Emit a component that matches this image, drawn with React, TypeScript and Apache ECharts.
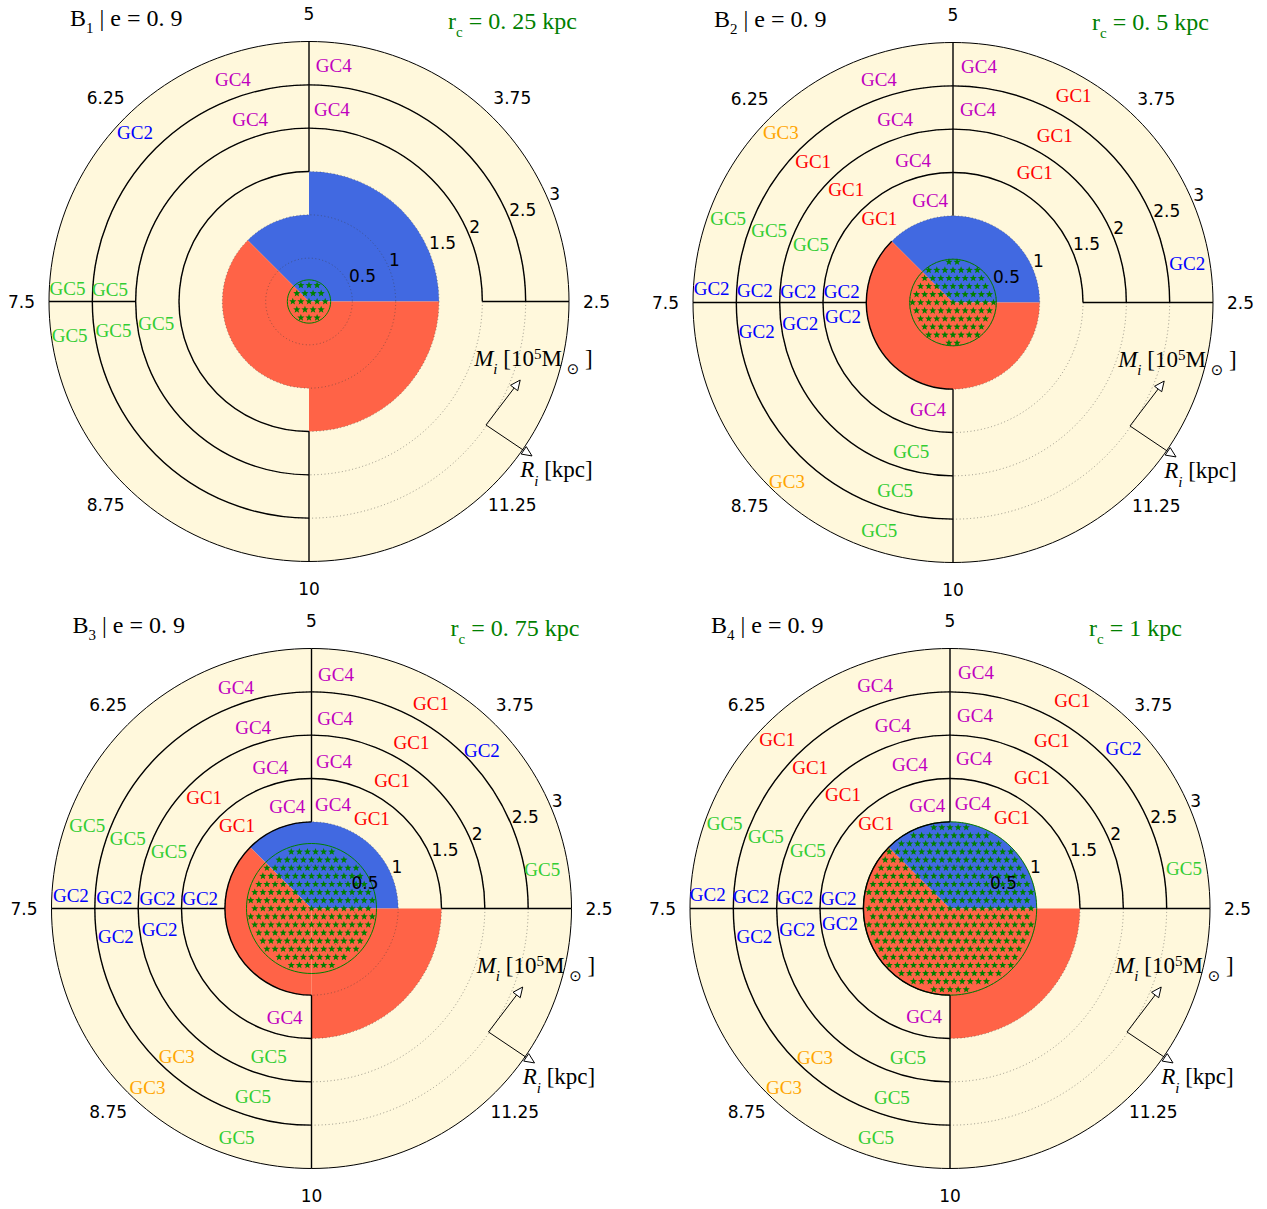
import React, { useEffect, useRef } from 'react';
import * as echarts from 'echarts';

// ---------------- layout ----------------
const CHART_W = 1267;
const CHART_H = 1209;
const PANEL_CENTERS = [[309, 301.5], [953, 302.5], [311.5, 908.5], [950, 908.5]];
const PANEL_RADIUS = 260;

// ---------------- axes ----------------
const R_MAX = 3;
const ANGLE_TICK_VALUES = [0, 45, 90, 135, 180, 225, 270, 315];
const ANGLE_TICK_LABELS = ['2.5', '3.75', '5', '6.25', '7.5', '8.75', '10', '11.25'];
const RADIUS_TICKS = [0.5, 1, 1.5, 2, 2.5, 3];
const RADIUS_LABEL_ANGLE = 22.5;

// ---------------- panel texts ----------------
const MODEL_INDEX = ['1', '2', '3', '4'];
const ECC_TEXT = '0. 9';
const CORE_RADII = [0.25, 0.5, 0.75, 1];
const CORE_TEXT = ['0. 25', '0. 5', '0. 75', '1'];

// ---------------- wedges: [outer radius kpc, from angle deg, to angle deg] ----------------
const BLUE_WEDGES = [
  [[1.5, 0, 90], [1, 90, 135]],
  [[1, 0, 135]],
  [[1, 0, 135]],
  [[1, 0, 135]],
];
const RED_WEDGES = [
  [[1, 135, 270], [1.5, 270, 360]],
  [[1, 135, 360]],
  [[1, 135, 270], [1.5, 270, 360]],
  [[1, 135, 270], [1.5, 270, 360]],
];

// ---------------- ring boundaries: [radius, from angle, to angle] ----------------
const RING_ARCS = [
  [[1.5, 90, 270], [2, 0, 270], [2.5, 0, 270]],
  [[1, 135, 270], [1.5, 0, 270], [2, 0, 270], [2.5, 0, 270]],
  [[1, 90, 270], [1.5, 0, 270], [2, 0, 270], [2.5, 0, 270]],
  [[1, 90, 270], [1.5, 0, 270], [2, 0, 270], [2.5, 0, 270]],
];
// ---------------- spokes: [angle, from radius, to radius] ----------------
const SPOKES = [
  [[0, 2, 3], [90, 1.5, 3], [180, 2, 3], [270, 1.5, 3]],
  [[0, 1.5, 3], [90, 1, 3], [180, 1, 3], [270, 1, 3]],
  [[0, 1.5, 3], [90, 1, 3], [180, 1, 3], [270, 1, 3]],
  [[0, 1.5, 3], [90, 1, 3], [180, 1, 3], [270, 1, 3]],
];

// ---------------- GC labels: [radius kpc, angle deg, GC number] ----------------
const GC_NAMES = ['GC1', 'GC2', 'GC3', 'GC4', 'GC5'];
const GC_COLORS = ['#ff0000', '#0000ff', '#ffa500', '#bf00bf', '#32cd32'];

const LABELS_B1 = [
  [2.74, 84, 4], [2.23, 83.2, 4], [2.71, 108.9, 4], [2.21, 107.9, 4], [2.8, 135.8, 2],
  [2.79, 176.9, 5], [2.3, 176.5, 5], [2.79, 188.2, 5], [2.28, 188.3, 5], [1.78, 188.1, 5],
];
const LABELS_B2 = [
  [2.74, 83.7, 4], [2.76, 59.7, 1], [2.24, 82.6, 4], [2.26, 58.7, 1], [1.77, 57.8, 1], [2.74, 9.5, 2],
  [2.71, 108.4, 4], [2.79, 135.4, 3], [2.22, 107.5, 4], [2.29, 134.8, 1], [1.7, 105.7, 4], [1.79, 133.5, 1],
  [1.21, 102.6, 4], [1.29, 131.2, 1],
  [2.77, 159.5, 5], [2.28, 158.5, 5], [1.77, 157.7, 5],
  [2.79, 176.6, 2], [2.29, 176.4, 2], [1.79, 176, 2], [1.29, 174.4, 2],
  [2.29, 188.5, 2], [1.78, 188, 2], [1.28, 187.4, 2],
  [1.27, 256.9, 4], [1.78, 254.3, 5], [2.82, 227.2, 3], [2.27, 252.9, 5], [2.77, 252.1, 5],
];
const LABELS_B3 = [
  [2.71, 84, 4], [2.74, 59.8, 1], [2.21, 82.9, 4], [2.68, 42.8, 2], [2.24, 59, 1], [1.72, 81.3, 4],
  [1.75, 57.9, 1], [1.23, 78.4, 4], [1.25, 56.1, 1], [2.7, 9.5, 5],
  [2.69, 108.9, 4], [2.19, 107.9, 4], [1.7, 106.2, 4], [1.21, 103.4, 4], [1.78, 134.1, 1], [1.29, 131.8, 1],
  [2.76, 159.6, 5], [2.27, 159.1, 5], [1.77, 158.3, 5],
  [2.78, 176.9, 2], [2.28, 176.8, 2], [1.78, 176.2, 2], [1.29, 175.1, 2],
  [2.28, 188.2, 2], [1.77, 188, 2],
  [1.29, 256.1, 4], [2.31, 227.7, 3], [1.78, 253.9, 5], [2.8, 227.5, 3], [2.27, 252.7, 5], [2.78, 251.9, 5],
];
const LABELS_B4 = [
  [2.74, 83.7, 4], [2.78, 59.5, 1], [2.24, 82.6, 4], [2.72, 42.6, 2], [2.27, 58.8, 1], [1.75, 80.9, 4],
  [1.78, 57.9, 1], [1.24, 77.8, 4], [1.27, 55.8, 1], [2.74, 9.7, 5],
  [2.71, 108.6, 4], [2.79, 135.6, 1], [2.21, 107.4, 4], [2.29, 134.8, 1], [1.72, 105.6, 4], [1.8, 133.3, 1],
  [1.22, 102.4, 4], [1.3, 131, 1],
  [2.78, 159.3, 5], [2.28, 158.7, 5], [1.77, 157.9, 5],
  [2.8, 176.8, 2], [2.3, 176.6, 2], [1.79, 176, 2], [1.29, 174.8, 2],
  [2.28, 188.2, 2], [1.78, 188, 2], [1.28, 187.7, 2],
  [1.28, 256.5, 4], [2.32, 227.8, 3], [1.79, 254.3, 5], [2.82, 227.2, 3], [2.28, 252.9, 5], [2.78, 252.1, 5],
];
const LABELS = [LABELS_B1, LABELS_B2, LABELS_B3, LABELS_B4];

// ---------------- annotation (data coords: [radius, angle]) ----------------
const ANNOT_CORNER = [2.49, 325.1];
const ANNOT_MASS_TIP = [2.6, 339.6];
const ANNOT_RADIUS_TIP = [3.13, 325.3];
const ANNOT_MASS_TEXT = [2.03, 339.9];
const ANNOT_RADIUS_TEXT = [3.14, 320.9];

// ---------------- styles ----------------
const CORNSILK = '#fff8dc';
const BLUE = '#4169e1';
const RED = '#ff6347';
const HATCH_COLOR = '#008000';
const SERIF = '"Liberation Serif", "DejaVu Serif", serif';
const SANS = '"DejaVu Sans", sans-serif';
const GRID_GRAY = 'rgba(60,60,60,0.5)';
const NONE = 'rgba(0,0,0,0)';

function frame(api: any) {
  const c = api.coord([0, 0]);
  const e = api.coord([1, 0]);
  return { cx: c[0], cy: c[1], unit: Math.hypot(e[0] - c[0], e[1] - c[1]) };
}
const toRad = (deg: number) => (-deg * Math.PI) / 180;

function starPoints(x: number, y: number, ro: number, ri: number) {
  const pts: number[][] = [];
  for (let i = 0; i < 10; i++) {
    const a = -Math.PI / 2 + (i * Math.PI) / 5;
    const r = i % 2 === 0 ? ro : ri;
    pts.push([x + r * Math.cos(a), y + r * Math.sin(a)]);
  }
  return pts;
}

function textEl(x: number, y: number, text: string, fill: string, fontSize: number, fontFamily: string, align: string, vAlign: string) {
  return {
    type: 'text',
    x,
    y,
    style: {
      text,
      fill,
      fontSize,
      fontFamily,
      fontWeight: 'normal',
      align,
      verticalAlign: vAlign,
      textAlign: align,
      textVerticalAlign: vAlign,
    },
  };
}

function arrowEls(a: number[], b: number[]) {
  const dx = b[0] - a[0];
  const dy = b[1] - a[1];
  const L = Math.hypot(dx, dy);
  const ux = dx / L;
  const uy = dy / L;
  const hl = 10;
  const hw = 4.5;
  const bx = b[0] - ux * hl;
  const by = b[1] - uy * hl;
  return [
    { type: 'line', shape: { x1: a[0], y1: a[1], x2: bx, y2: by }, style: { stroke: '#000', lineWidth: 1 } },
    {
      type: 'polygon',
      shape: { points: [[b[0], b[1]], [bx - uy * hw, by + ux * hw], [bx + uy * hw, by - ux * hw]] },
      style: { fill: '#ffffff', stroke: '#000', lineWidth: 1 },
    },
  ];
}

const annotRich = {
  it: { fontFamily: SERIF, fontStyle: 'italic', fontWeight: 'normal', fontSize: 23, lineHeight: 30, verticalAlign: 'top', fill: '#000' },
  n: { fontFamily: SERIF, fontWeight: 'normal', fontSize: 23, lineHeight: 30, verticalAlign: 'top', fill: '#000' },
  s: { fontFamily: SERIF, fontStyle: 'italic', fontWeight: 'normal', fontSize: 15, lineHeight: 19, verticalAlign: 'bottom', fill: '#000' },
  p: { fontFamily: SERIF, fontWeight: 'normal', fontSize: 15, lineHeight: 19, verticalAlign: 'top', fill: '#000' },
  o: { fontFamily: SANS, fontWeight: 'normal', fontSize: 15, lineHeight: 20, verticalAlign: 'bottom', fill: '#000' },
};

function panelSeries(k: number) {
  const base = { type: 'custom', coordinateSystem: 'polar', polarIndex: k, silent: true, animation: false };
  const wedgeData = [
    ...BLUE_WEDGES[k].map((w) => [w[0], w[1], w[2], 0]),
    ...RED_WEDGES[k].map((w) => [w[0], w[1], w[2], 1]),
  ];
  return [
    {
      ...base,
      z: 1,
      data: [[R_MAX, 0]],
      renderItem: (_p: any, api: any) => {
        const f = frame(api);
        return { type: 'circle', shape: { cx: f.cx, cy: f.cy, r: f.unit * api.value(0) }, style: { fill: CORNSILK } };
      },
    },
    {
      ...base,
      z: 2,
      data: wedgeData,
      renderItem: (_p: any, api: any) => {
        const f = frame(api);
        return {
          type: 'sector',
          shape: {
            cx: f.cx,
            cy: f.cy,
            r0: 0,
            r: f.unit * api.value(0),
            startAngle: toRad(api.value(1)),
            endAngle: toRad(api.value(2)),
            clockwise: false,
          },
          style: { fill: api.value(3) === 0 ? BLUE : RED },
        };
      },
    },
    {
      ...base,
      z: 3,
      data: [[CORE_RADII[k], 0]],
      renderItem: (_p: any, api: any) => {
        const f = frame(api);
        const rpx = f.unit * api.value(0);
        const children: any[] = [];
        const sx = 8.1;
        const sy = 8.1;
        const n = Math.ceil(rpx / sy) + 1;
        for (let j = -n; j <= n; j++) {
          const off = (Math.abs(j) % 2) * (sx / 2);
          for (let i = -n - 1; i <= n + 1; i++) {
            const x = i * sx + off;
            const y = j * sy;
            if (Math.hypot(x, y) <= rpx - 2.5) {
              children.push({
                type: 'polygon',
                shape: { points: starPoints(f.cx + x, f.cy + y, 3.8, 1.6) },
                style: { fill: HATCH_COLOR },
              });
            }
          }
        }
        children.push({
          type: 'circle',
          shape: { cx: f.cx, cy: f.cy, r: rpx },
          style: { fill: NONE, stroke: HATCH_COLOR, lineWidth: 1 },
        });
        return { type: 'group', children };
      },
    },
    {
      ...base,
      z: 5,
      data: RING_ARCS[k],
      renderItem: (_p: any, api: any) => {
        const f = frame(api);
        return {
          type: 'arc',
          shape: {
            cx: f.cx,
            cy: f.cy,
            r: f.unit * api.value(0),
            startAngle: toRad(api.value(1)),
            endAngle: toRad(api.value(2)),
            clockwise: false,
          },
          style: { stroke: '#000', lineWidth: 1.4, fill: NONE },
        };
      },
    },
    {
      ...base,
      z: 5,
      data: SPOKES[k].map((s) => [s[1], s[0], s[2]]),
      renderItem: (_p: any, api: any) => {
        const a = api.coord([api.value(0), api.value(1)]);
        const b = api.coord([api.value(2), api.value(1)]);
        return {
          type: 'line',
          shape: { x1: a[0], y1: a[1], x2: b[0], y2: b[1] },
          style: { stroke: '#000', lineWidth: 1.4 },
        };
      },
    },
    {
      ...base,
      z: 7,
      data: LABELS[k],
      renderItem: (_p: any, api: any) => {
        const pt = api.coord([api.value(0), api.value(1)]);
        const gi = api.value(2) - 1;
        return textEl(pt[0], pt[1], GC_NAMES[gi], GC_COLORS[gi], 19, SERIF, 'center', 'middle');
      },
    },
    {
      ...base,
      z: 7,
      data: ANGLE_TICK_VALUES.map((a, i) => [R_MAX, a, i]),
      renderItem: (_p: any, api: any) => {
        const f = frame(api);
        const ang = (api.value(1) * Math.PI) / 180;
        const d = f.unit * api.value(0) + 27.5;
        return textEl(
          f.cx + d * Math.cos(ang),
          f.cy - d * Math.sin(ang),
          ANGLE_TICK_LABELS[api.value(2)],
          '#000',
          17,
          SANS,
          'center',
          'middle'
        );
      },
    },
    {
      ...base,
      z: 7,
      data: RADIUS_TICKS.map((r) => [r, RADIUS_LABEL_ANGLE]),
      renderItem: (_p: any, api: any) => {
        const pt = api.coord([api.value(0), api.value(1)]);
        return textEl(pt[0], pt[1], String(api.value(0)), '#000', 17, SANS, 'left', 'bottom');
      },
    },
    {
      ...base,
      z: 7,
      data: [ANNOT_CORNER],
      renderItem: (_p: any, api: any) => {
        const corner = api.coord([api.value(0), api.value(1)]);
        const mTip = api.coord(ANNOT_MASS_TIP);
        const rTip = api.coord(ANNOT_RADIUS_TIP);
        const mTxt = api.coord(ANNOT_MASS_TEXT);
        const rTxt = api.coord(ANNOT_RADIUS_TEXT);
        return {
          type: 'group',
          children: [
            ...arrowEls(corner, mTip),
            ...arrowEls(corner, rTip),
            {
              type: 'text',
              x: mTxt[0],
              y: mTxt[1],
              style: {
                text: '{it|M}{s|i}{n| [10}{p|5}{n|M}{o| ⊙}{n| ]}',
                rich: annotRich,
                align: 'left',
                verticalAlign: 'middle',
                textAlign: 'left',
                textVerticalAlign: 'middle',
              },
            },
            {
              type: 'text',
              x: rTxt[0],
              y: rTxt[1],
              style: {
                text: '{it|R}{s|i}{n| [kpc]}',
                rich: annotRich,
                align: 'left',
                verticalAlign: 'middle',
                textAlign: 'left',
                textVerticalAlign: 'middle',
              },
            },
          ],
        };
      },
    },
  ];
}

function titleRich(color: string) {
  return {
    m: { fontFamily: SERIF, fontWeight: 'normal', fontSize: 24, lineHeight: 30, verticalAlign: 'top', color },
    s: { fontFamily: SERIF, fontWeight: 'normal', fontSize: 15, lineHeight: 19, verticalAlign: 'bottom', color },
  };
}

function buildOption() {
  const titles: any[] = [];
  PANEL_CENTERS.forEach((c, k) => {
    titles.push({
      text: '{m|B}{s|' + MODEL_INDEX[k] + '}{m| | e = ' + ECC_TEXT + '}',
      left: c[0] - 239,
      top: c[1] - 296,
      padding: 0,
      textStyle: { fontWeight: 'normal', fontFamily: SERIF, rich: titleRich('#000000') },
    });
    titles.push({
      text: '{m|r}{s|c}{m| = ' + CORE_TEXT[k] + ' kpc}',
      left: c[0] + 139,
      top: c[1] - 292.5,
      padding: 0,
      textStyle: { fontWeight: 'normal', fontFamily: SERIF, rich: titleRich(HATCH_COLOR) },
    });
  });

  const gridColors = [NONE, GRID_GRAY, GRID_GRAY, GRID_GRAY, GRID_GRAY, GRID_GRAY, NONE];

  return {
    animation: false,
    backgroundColor: '#ffffff',
    title: titles,
    polar: PANEL_CENTERS.map((c) => ({ center: [c[0], c[1]], radius: PANEL_RADIUS })),
    angleAxis: PANEL_CENTERS.map((_c, k) => ({
      polarIndex: k,
      type: 'value',
      min: 0,
      max: 360,
      interval: 45,
      startAngle: 0,
      clockwise: false,
      z: 6,
      axisLine: { show: true, lineStyle: { color: '#000', width: 1 } },
      axisTick: { show: false },
      axisLabel: { show: false },
      splitLine: { show: false },
    })),
    radiusAxis: PANEL_CENTERS.map((_c, k) => ({
      polarIndex: k,
      type: 'value',
      min: 0,
      max: R_MAX,
      interval: 0.5,
      z: 4,
      axisLine: { show: false },
      axisTick: { show: false },
      axisLabel: { show: false },
      splitLine: { show: true, lineStyle: { color: gridColors, width: 1, type: [1, 2.5] } },
    })),
    series: PANEL_CENTERS.flatMap((_c, k) => panelSeries(k)),
  };
}

export default function App() {
  const ref = useRef<HTMLDivElement>(null);
  useEffect(() => {
    const chart = echarts.init(ref.current as HTMLDivElement, null, { renderer: 'svg' });
    chart.setOption(buildOption() as any);
    return () => chart.dispose();
  }, []);
  return (
    <div
      ref={ref}
      style={{ position: 'fixed', left: 0, top: 0, width: CHART_W, height: CHART_H, background: '#ffffff' }}
    />
  );
}
